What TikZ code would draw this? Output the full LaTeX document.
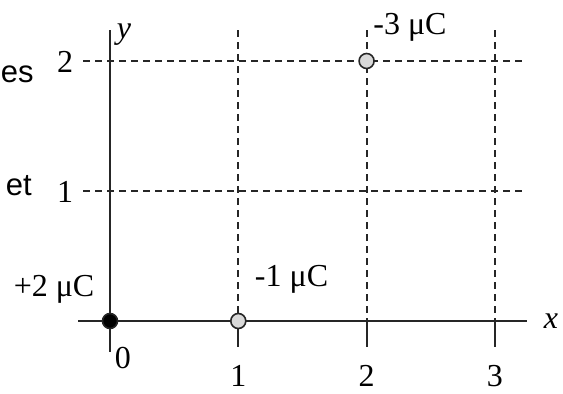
\documentclass[tikz,border=0pt]{standalone}
\usepackage{fontspec}
\setmainfont{Liberation Serif}
\newfontfamily\cutsans{Liberation Sans}
\usetikzlibrary{positioning}

\begin{document}
\begin{tikzpicture}[x=128.3pt, y=130pt, font=\fontsize{32}{34}\selectfont,
  grid/.style={draw=black!85, line width=2pt, dash pattern=on 7pt off 5pt},
  axis/.style={draw=black!85, line width=2.2pt},
  charge/.style={circle, draw=black!85, line width=1.6pt, fill=black!15, inner sep=0pt, minimum size=15pt},
  lbl/.style={inner sep=0pt, anchor=base}]
  \useasboundingbox (-110pt,-73pt) rectangle (453pt,321pt);

  % grid
  \foreach \i in {1,2,3}
    \draw[grid] (\i,2.238) -- (\i,0);
  \foreach \j in {1,2}
    \draw[grid] (-0.21,\j) -- (3.25,\j);

  % axes and ticks
  \coordinate (xmin) at (-0.249,0);
  \coordinate (xmax) at (3.25,0);
  \coordinate (ymin) at (0,-0.238);
  \coordinate (ymax) at (0,2.238);
  \draw[axis] (xmin) -- (xmax);
  \draw[axis] (ymin) -- (ymax);
  \foreach \i in {1,2,3}
    \draw[axis] (\i,0) -- (\i,-0.2);

  \node[lbl] (xlbl) at (3.437,-0.054) {\textit{x}};
  \node (ylbl) at (0.109,2.2) {\textit{y}};
  \node[lbl] (t0) at (0.101,-0.362) {0};
  \node[lbl] (t1) at (1,-0.5) {1};
  \node[lbl] (t2) at (2,-0.5) {2};
  \node[lbl] (t3) at (3,-0.5) {3};
  \node[lbl] (u1) at (-0.35,0.908) {1};
  \node[lbl] (u2) at (-0.35,1.908) {2};

  % charges
  \node[charge, fill=black] (qa) at (0,0) {};
  \node[charge] (qb) at (1,0) {};
  \node[charge] (qc) at (2,2) {};
  \node[lbl] (qalbl) at (-0.436,0.185) {+2 μC};
  \node[lbl] (qblbl) at (1.415,0.262) {-1 μC};
  \node[lbl] (qclbl) at (2.338,2.2) {-3 μC};

  % cut text at left edge
  \node[inner sep=0pt, anchor=base west, font=\cutsans\fontsize{31}{34}\selectfont] (cut1) at (-0.852,1.831) {es};
  \node[inner sep=0pt, anchor=base east, font=\cutsans\fontsize{31}{34}\selectfont] (cut2) at (-0.608,0.969) {et};
\end{tikzpicture}
\end{document}
